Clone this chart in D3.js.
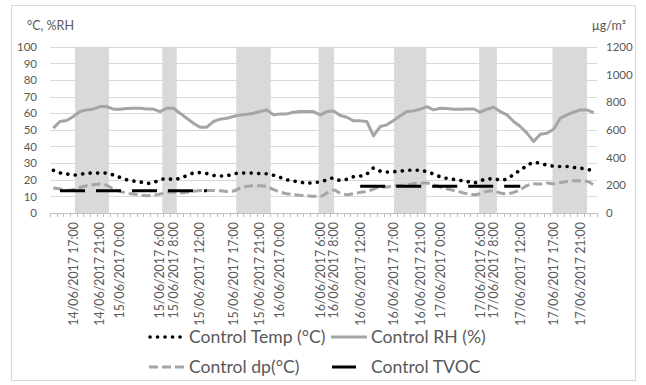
<!DOCTYPE html>
<html>
<head>
<meta charset="utf-8">
<script src="https://cdn.jsdelivr.net/npm/d3@7"></script>
<style>
  body { margin: 0; background: #fff; }
  svg text { font-family: Lato, "Open Sans", sans-serif; fill: #595959; }
</style>
</head>
<body>
<svg id="chart" width="646" height="385"></svg>
<script>
// hourly readings, 14/06/2017 14:00 -> 17/06/2017 23:00
const firstHour = "14/06/2017 14:00";
const lastHour = "17/06/2017 23:00";

const tickLabels = ["14/06/2017 17:00", "14/06/2017 21:00", "15/06/2017 0:00", "15/06/2017 6:00",
  "15/06/2017 8:00", "15/06/2017 12:00", "15/06/2017 17:00", "15/06/2017 21:00", "16/06/2017 0:00",
  "16/06/2017 6:00", "16/06/2017 8:00", "16/06/2017 12:00", "16/06/2017 17:00", "16/06/2017 21:00",
  "17/06/2017 0:00", "17/06/2017 6:00", "17/06/2017 8:00", "17/06/2017 12:00", "17/06/2017 17:00",
  "17/06/2017 21:00"];

const temp = [25.6, 24.1, 23.5, 22.8, 23.2, 23.9, 24, 24, 24, 22.8,
  21.4, 20, 19.2, 18.7, 17.8, 18.3, 20, 20.6, 20.2, 20.9,
  22.5, 24, 24.3, 23.7, 22.6, 22.2, 22.4, 23.5, 24, 24,
  24, 23.7, 23.6, 22.7, 21.4, 20, 19.2, 18.6, 17.8, 18.4,
  18.6, 20, 21, 19.6, 20.3, 21.8, 22.2, 23.5, 27, 25.2,
  24.6, 24.8, 25.2, 25.6, 25.8, 25.6, 24.8, 23.4, 21.8, 20.8,
  20.2, 19.6, 19, 18, 19.4, 20.4, 20.6, 19.8, 20.5, 23.2,
  25.8, 28.4, 30.4, 29.8, 28.8, 28.2, 28, 28, 27.4, 27,
  26.2, 25.6];

const rh = [51, 55, 55.6, 58, 61, 62, 62.6, 64, 64, 62.4,
  62.4, 62.8, 63, 63, 62.6, 62.5, 61, 63, 63, 60,
  57, 54, 51.6, 51.6, 55, 56.4, 57, 58, 59, 59.4,
  60, 61, 62, 59, 59.6, 59.6, 60.6, 61, 61, 61,
  59, 61, 61.4, 58.6, 57.6, 55.4, 55.4, 55, 46.4, 52,
  53, 55.6, 58.4, 61, 61.4, 62.4, 64, 62, 63, 62.8,
  62.4, 62.4, 62.6, 62.6, 60.6, 62.4, 63.6, 61, 59, 55,
  52, 48, 43, 47.4, 48, 50.4, 57, 59, 60.6, 62,
  62, 60.4];

const dp = [15, 14.4, 13.6, 14, 15.4, 16.4, 17, 17.4, 16.6, 14.4,
  13, 12, 11.4, 10.8, 10.4, 10.6, 11.4, 12.4, 12.6, 12,
  12.4, 13, 13.6, 13.6, 13.6, 13.4, 13, 13.2, 15, 16,
  16.4, 16.4, 16, 14, 12.6, 11.6, 11, 10.6, 10.4, 10,
  10, 12, 13.8, 12, 11, 11.6, 12.4, 13, 14.4, 15.6,
  15.6, 16.4, 16.6, 17, 17.6, 18, 18, 17, 15.6, 14.6,
  13.6, 12.6, 11.6, 11, 11.6, 13, 13.4, 12, 11.6, 12.4,
  14, 16.4, 17.6, 17.4, 18, 17.6, 18.4, 19, 19.4, 19.4,
  19, 17];

// µg/m³, secondary axis
const tvoc = [null, 160, 160, 160, 160, 160, 160, 160, 160, 160,
  160, 160, 160, 160, 160, 160, 160, 160, 160, 160,
  160, 160, 160, 160, null, null, null, null, null, null,
  null, null, null, null, null, null, null, null, null, null,
  null, null, null, null, null, null, 193, 193, 193, 193,
  193, 193, 193, 193, 193, 193, 193, 193, 193, 193,
  193, 193, 193, 193, 193, 193, 193, 193, 193, 193,
  193, null, null, null, null, null, null, null, null, null,
  null, null];

// shaded periods
const shaded = [["14/06/2017 17:15", "14/06/2017 22:20"], ["15/06/2017 6:20", "15/06/2017 8:30"],
  ["15/06/2017 17:25", "15/06/2017 22:35"], ["16/06/2017 5:45", "16/06/2017 8:05"],
  ["16/06/2017 17:05", "16/06/2017 21:55"], ["17/06/2017 5:50", "17/06/2017 8:30"],
  ["17/06/2017 16:50", "17/06/2017 22:00"]];

const leftTicks = d3.range(0, 101, 10);
const rightTicks = [0, 200, 400, 600, 800, 1000, 1200];

const parse = d3.timeParse("%d/%m/%Y %H:%M");
const fmt = d3.timeFormat("%d/%m/%Y %-H:%M");

const t0 = parse(firstHour), t1 = parse(lastHour);
const hours = d3.timeHour.range(t0, d3.timeHour.offset(t1, 1));

const pLeft = 50, pRight = 597, pTop = 46.7, pBottom = 213;

const x = d3.scaleTime()
  .domain([d3.timeMinute.offset(t0, -30), d3.timeMinute.offset(t1, 30)])
  .range([pLeft, pRight]);
const y = d3.scaleLinear().domain([0, 100]).range([pBottom, pTop]);
const yR = d3.scaleLinear().domain([0, 1200]).range([pBottom, pTop]);

const svg = d3.select("#chart");

svg.append("rect")
  .attr("x", 11.5).attr("y", 5.5).attr("width", 624).attr("height", 375)
  .attr("fill", "#fff").attr("stroke", "#d9d9d9");

// gridlines
svg.append("g").selectAll("line")
  .data(leftTicks.slice(1))
  .enter().append("line")
  .attr("x1", pLeft).attr("x2", pRight)
  .attr("y1", d => Math.round(y(d)) + 0.5).attr("y2", d => Math.round(y(d)) + 0.5)
  .attr("stroke", "#d9d9d9");

// shaded bands
svg.append("g").selectAll("rect")
  .data(shaded)
  .enter().append("rect")
  .attr("x", d => x(parse(d[0])))
  .attr("width", d => x(parse(d[1])) - x(parse(d[0])))
  .attr("y", pTop).attr("height", pBottom - pTop)
  .attr("fill", "#d9d9d9");

// bottom axis line + category ticks
const xAxis = svg.append("g");
xAxis.append("line")
  .attr("x1", pLeft).attr("x2", pRight)
  .attr("y1", Math.round(pBottom) + 0.5).attr("y2", Math.round(pBottom) + 0.5)
  .attr("stroke", "#bfbfbf");
xAxis.selectAll(".tk")
  .data(hours.concat([d3.timeHour.offset(t1, 1)]))
  .enter().append("line")
  .attr("class", "tk")
  .attr("x1", d => Math.round(x(d3.timeMinute.offset(d, -30))) + 0.5)
  .attr("x2", d => Math.round(x(d3.timeMinute.offset(d, -30))) + 0.5)
  .attr("y1", pBottom).attr("y2", pBottom + 4)
  .attr("stroke", "#bfbfbf");

xAxis.selectAll(".lbl")
  .data(hours.filter(d => tickLabels.includes(fmt(d))))
  .enter().append("text")
  .attr("class", "lbl")
  .attr("transform", d => `translate(${x(d)},222) rotate(-90)`)
  .attr("dy", "0.35em")
  .attr("text-anchor", "end")
  .style("font-size", "12.4px")
  .text(d => fmt(d));

// left axis
const gl = svg.append("g")
  .attr("transform", `translate(${pLeft},0)`)
  .call(d3.axisLeft(y).tickValues(leftTicks).tickSize(0).tickPadding(13));
gl.select(".domain").remove();
gl.selectAll("text").style("font-size", "11.5px").style("font-family", "Lato, sans-serif").attr("fill", "#595959");

// right axis
const gr = svg.append("g")
  .attr("transform", `translate(${pRight},0)`)
  .call(d3.axisRight(yR).tickValues(rightTicks).tickFormat(d3.format("d")).tickSize(0).tickPadding(9));
gr.select(".domain").remove();
gr.selectAll("text").style("font-size", "11.5px").style("font-family", "Lato, sans-serif").attr("fill", "#595959");

svg.append("text").attr("x", 27).attr("y", 30).style("font-size", "12.5px").text("°C, %RH");
svg.append("text").attr("x", 626).attr("y", 30).attr("text-anchor", "end").style("font-size", "12.5px").text("µg/m³");

// series
const lineL = d3.line().x((d, i) => x(hours[i])).y(d => y(d));
const lineSmooth = d3.line().x((d, i) => x(hours[i])).y(d => y(d)).curve(d3.curveMonotoneX);
const lineR = d3.line().defined(d => d != null).x((d, i) => x(hours[i])).y(d => yR(d));

svg.append("path").datum(temp)
  .attr("d", lineSmooth).attr("fill", "none")
  .attr("stroke", "#000").attr("stroke-width", 3.6)
  .attr("stroke-linecap", "round").attr("stroke-dasharray", "0.1 7.4");

svg.append("path").datum(rh)
  .attr("d", lineL).attr("fill", "none")
  .attr("stroke", "#a5a5a5").attr("stroke-width", 3).attr("stroke-linejoin", "round");

svg.append("path").datum(dp)
  .attr("d", lineSmooth).attr("fill", "none")
  .attr("stroke", "#a5a5a5").attr("stroke-width", 3)
  .attr("stroke-dasharray", "9 4");

svg.append("path").datum(tvoc)
  .attr("d", lineR).attr("fill", "none")
  .attr("stroke", "#000").attr("stroke-width", 3)
  .attr("stroke-dasharray", "25 11");

// legend
const legend = [
  { name: "Control Temp (°C)", col: 0, row: 0, stroke: "#000", width: 3.6, dash: "0.1 7.4", cap: "round", x1: 150, x2: 185 },
  { name: "Control RH (%)", col: 1, row: 0, stroke: "#a5a5a5", width: 3, dash: null, cap: "butt", x1: 331, x2: 367 },
  { name: "Control dp(°C)", col: 0, row: 1, stroke: "#a5a5a5", width: 3, dash: "9 4", cap: "butt", x1: 149, x2: 185 },
  { name: "Control TVOC", col: 1, row: 1, stroke: "#000", width: 3, dash: null, cap: "butt", x1: 332, x2: 356 }
];
const lg = svg.append("g").selectAll("g").data(legend).enter().append("g")
  .attr("transform", d => `translate(0,${337 + d.row * 30})`);
lg.append("line")
  .attr("x1", d => d.x1).attr("x2", d => d.x2)
  .attr("stroke", d => d.stroke).attr("stroke-width", d => d.width)
  .attr("stroke-dasharray", d => d.dash).attr("stroke-linecap", d => d.cap);
lg.append("text")
  .attr("x", d => d.col ? 371 : 189)
  .attr("dy", "0.35em")
  .style("font-size", "17.6px")
  .text(d => d.name);
</script>
</body>
</html>
